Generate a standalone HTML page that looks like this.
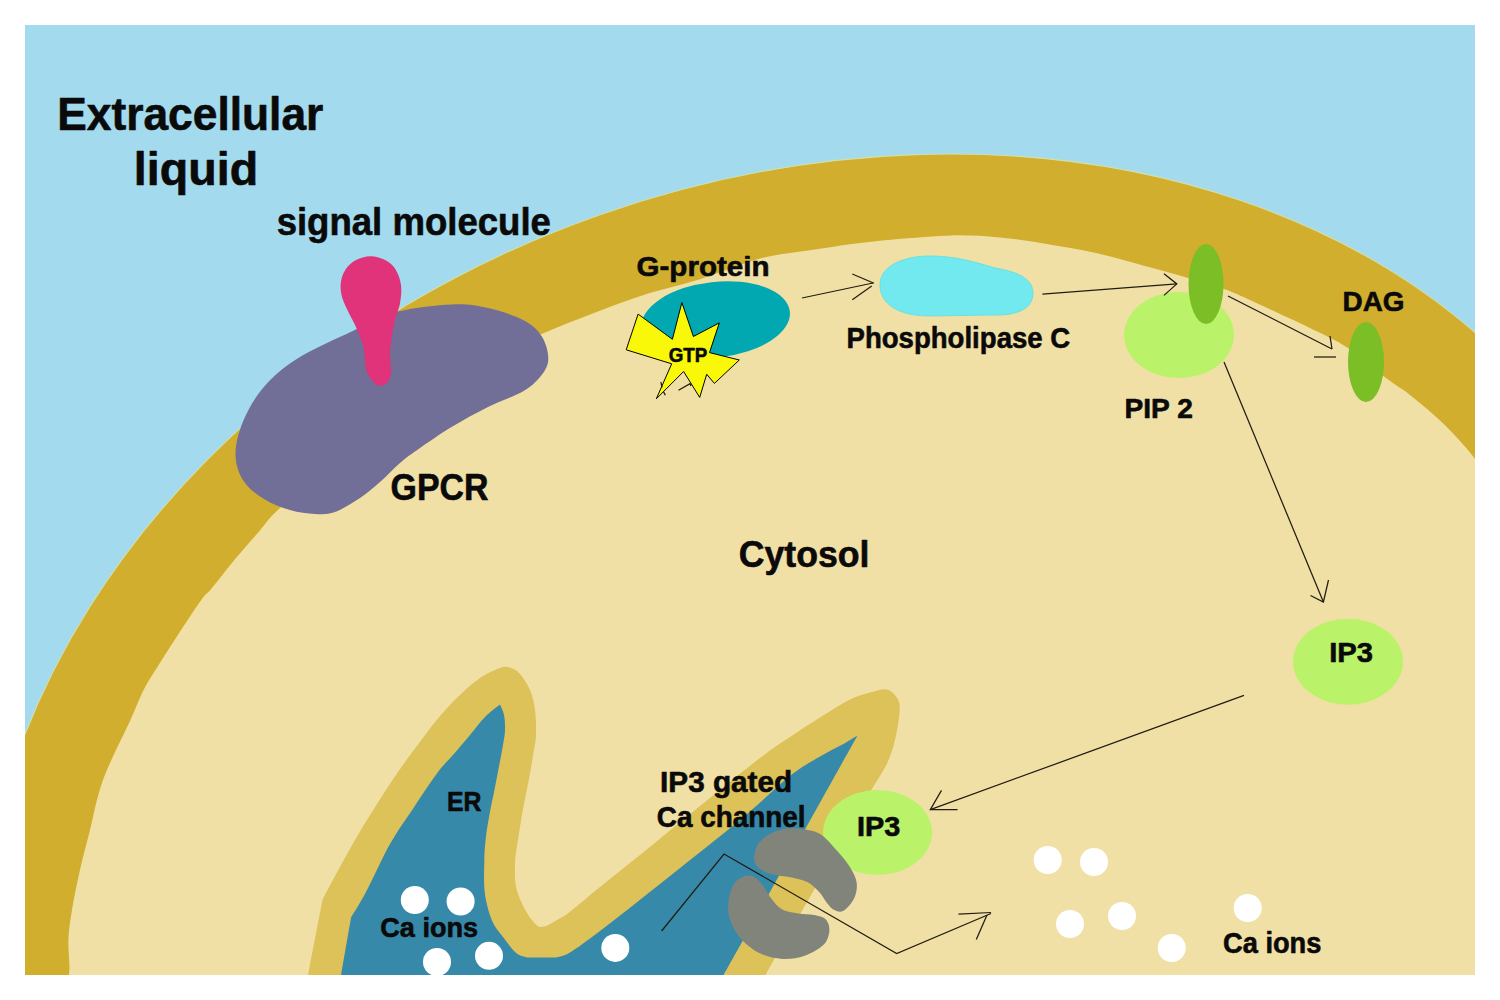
<!DOCTYPE html>
<html><head><meta charset="utf-8">
<style>
html,body{margin:0;padding:0;background:#fff;width:1500px;height:1000px;overflow:hidden}
svg{display:block}
text{font-family:"Liberation Sans",sans-serif;font-weight:bold;fill:#0a0a0a;stroke:#0a0a0a;stroke-width:0.6;stroke-linejoin:round}
</style></head>
<body>
<svg width="1500" height="1000" viewBox="0 0 1500 1000">
<defs><clipPath id="cl"><rect x="25" y="25" width="1450" height="950"/></clipPath></defs>
<rect x="0" y="0" width="1500" height="1000" fill="#fff"/>
<g clip-path="url(#cl)">
<rect x="25" y="25" width="1450" height="950" fill="#A3DAEE"/>
<ellipse cx="826.15" cy="858.75" rx="863.3" ry="682.5" transform="rotate(-19.41 826.15 858.75)" fill="#D1AE2D" stroke="#D2DFA8" stroke-width="1.1"/>
<path fill="#F1E0A5" d="M60.0,1000.0 C61.5,995.7 67.6,984.0 69.0,974.0 C70.4,964.0 67.9,950.7 68.4,940.0 C68.9,929.3 70.1,921.7 72.0,910.0 C73.9,898.3 77.0,883.3 80.0,870.0 C83.0,856.7 86.2,845.0 90.0,830.0 C93.8,815.0 96.3,798.3 103.0,780.0 C109.7,761.7 123.6,735.0 130.4,720.0 C137.2,705.0 139.0,699.0 143.6,690.0 C148.2,681.0 152.4,675.0 158.0,666.0 C163.6,657.0 170.0,647.0 177.2,636.0 C184.4,625.0 195.4,608.0 201.2,600.0 C207.0,592.0 206.2,595.0 212.0,588.0 C217.8,581.0 228.0,567.6 236.0,558.0 C244.0,548.4 252.8,538.6 260.0,530.4 C267.2,522.2 267.5,519.5 279.2,508.8 C290.9,498.1 311.5,481.1 330.0,466.3 C348.5,451.5 370.0,434.2 390.0,420.0 C410.0,405.7 431.7,391.9 450.0,380.7 C468.3,369.5 484.3,360.6 500.0,352.6 C515.7,344.7 528.5,339.6 544.0,333.0 C559.5,326.4 576.2,319.8 593.3,313.3 C610.4,306.8 628.9,299.8 646.7,294.1 C664.5,288.4 681.1,285.1 700.0,279.2 C718.9,273.3 742.0,263.4 760.0,258.6 C778.0,253.8 792.0,253.1 808.0,250.6 C824.0,248.1 840.0,245.4 856.0,243.4 C872.0,241.4 888.0,239.9 904.0,238.6 C920.0,237.3 936.0,235.6 952.0,235.4 C968.0,235.2 984.0,235.9 1000.0,237.4 C1016.0,238.9 1032.0,241.6 1048.0,244.2 C1064.0,246.8 1080.0,249.4 1096.0,253.0 C1112.0,256.6 1128.8,261.7 1144.0,265.8 C1159.2,269.9 1173.9,273.9 1187.2,277.8 C1200.5,281.7 1213.5,285.3 1224.0,289.0 C1234.5,292.7 1240.7,295.8 1250.0,300.0 C1259.3,304.2 1270.0,309.3 1280.0,314.0 C1290.0,318.7 1298.7,322.3 1310.0,328.0 C1321.3,333.7 1335.2,339.5 1348.0,348.0 C1360.8,356.5 1376.7,371.0 1387.0,378.8 C1397.3,386.6 1400.4,387.3 1410.0,395.0 C1419.6,402.7 1433.8,414.3 1444.5,424.8 C1455.2,435.3 1465.2,446.3 1474.4,458.0 C1483.7,469.7 1495.7,488.8 1500.0,495.0 L1500,1000 Z"/>

<!-- ER outer -->
<path id="erOuter" fill="#DDC159" d="M305.0,995.0 C305.5,991.6 305.3,990.4 308.2,974.5 C311.1,958.6 320.1,912.2 322.5,899.7 L322.5,899.7 C327.1,891.2 341.4,863.9 350.0,848.8 C358.6,833.6 366.0,821.6 374.0,808.8 C382.0,796.0 390.2,783.4 398.0,772.0 C405.8,760.6 414.0,749.8 421.0,740.5 C428.0,731.2 433.5,723.6 440.0,716.0 C446.5,708.4 453.3,701.3 460.0,695.0 C466.7,688.7 473.3,682.5 480.0,678.0 C486.7,673.5 495.0,669.8 500.0,668.0 C505.0,666.2 506.7,666.5 510.0,667.5 C513.3,668.5 516.7,670.2 520.0,674.0 C523.3,677.8 527.5,684.0 530.0,690.0 C532.5,696.0 534.0,702.5 535.0,710.0 C536.0,717.5 536.2,728.0 536.0,735.0 C535.8,742.0 534.8,744.5 533.6,752.0 C532.4,759.5 530.6,770.3 528.8,780.0 C527.0,789.7 524.6,800.0 522.8,810.0 C521.0,820.0 519.3,831.3 518.0,840.0 C516.7,848.7 515.4,854.1 515.1,862.0 C514.8,869.9 514.6,879.6 516.2,887.5 C517.9,895.4 521.7,903.3 525.0,909.5 C528.3,915.7 532.8,921.6 536.0,924.5 C539.2,927.4 540.3,927.5 544.0,926.6 C547.7,925.8 553.7,921.9 558.0,919.4 C562.3,916.9 563.0,917.1 570.0,911.7 C577.0,906.3 588.3,896.5 600.0,887.0 C611.7,877.5 623.3,868.5 640.0,855.0 C656.7,841.5 680.0,822.2 700.0,806.0 C720.0,789.8 745.0,769.5 760.0,758.0 C775.0,746.5 780.0,743.8 790.0,737.0 C800.0,730.2 810.0,723.8 820.0,717.5 C830.0,711.2 841.2,703.8 850.0,699.5 C858.8,695.2 866.2,693.6 872.5,692.0 C878.8,690.4 883.2,688.5 887.5,689.8 C891.8,691.0 896.0,695.6 898.0,699.5 C900.0,703.4 900.0,706.2 899.5,713.0 C899.0,719.8 897.0,731.8 895.0,740.0 C893.0,748.2 891.2,754.5 887.5,762.5 C883.8,770.5 875.0,783.8 872.5,788.0 L872.5,788.0 C854.6,819.3 784.6,941.5 765.0,976.0 C745.4,1010.5 756.7,991.8 755.0,995.0 Z"/>
<!-- ER lumen -->
<path id="erInner" fill="#3689A9" d="M338.0,995.0 C338.5,991.6 339.0,987.5 341.2,974.5 C343.4,961.5 349.5,926.8 351.1,917.3 L351.1,917.3 C353.6,913.1 359.5,904.2 366.0,892.0 C372.5,879.8 382.0,858.1 390.0,844.0 C398.0,829.9 406.0,819.2 414.0,807.2 C422.0,795.2 431.5,780.7 438.0,772.0 C444.5,763.3 447.7,761.2 453.0,755.0 C458.3,748.8 464.7,741.3 470.0,735.0 C475.3,728.7 480.0,722.1 485.0,717.0 C490.0,711.9 497.5,706.6 500.0,704.5 L500.0,704.5 C500.7,706.2 503.2,710.8 504.0,715.0 C504.8,719.2 505.2,725.0 505.0,730.0 C504.8,735.0 504.6,735.7 503.0,745.0 C501.4,754.3 497.5,774.2 495.2,786.0 C492.9,797.8 490.8,807.0 489.2,816.0 C487.6,825.0 486.4,832.3 485.6,840.0 C484.8,847.7 484.4,853.2 484.3,862.0 C484.2,870.8 483.5,883.2 484.8,893.0 C486.1,902.8 489.0,913.2 492.0,920.5 C495.0,927.8 499.0,931.6 503.0,937.0 C507.0,942.4 512.2,949.6 516.2,953.0 C520.2,956.4 525.2,956.7 527.0,957.4 L527.0,957.4 C531.8,957.4 551.2,957.4 556.0,957.4 L556.0,957.4 C558.3,956.6 562.7,956.8 570.0,952.4 C577.3,948.0 585.0,942.4 600.0,931.0 C615.0,919.6 636.7,902.5 660.0,884.0 C683.3,865.5 718.3,838.0 740.0,820.0 C761.7,802.0 776.7,786.6 790.0,776.0 C803.3,765.4 811.2,761.8 820.0,756.5 C828.8,751.2 836.2,748.0 842.5,744.5 C848.8,741.0 855.0,737.0 857.5,735.5 L857.5,735.5 C835.1,775.6 747.2,932.8 723.0,976.0 C698.8,1019.2 714.2,991.8 712.5,995.0 Z"/>

<!-- ions in ER -->
<g fill="#fff">
<circle cx="414.8" cy="900" r="14"/>
<circle cx="460.6" cy="901.5" r="14"/>
<circle cx="437" cy="962" r="14"/>
<circle cx="489" cy="955.8" r="14"/>
<circle cx="615.3" cy="947.9" r="14"/>
<circle cx="538" cy="990" r="14"/>
<circle cx="1047.7" cy="860" r="14"/>
<circle cx="1094" cy="862" r="14"/>
<circle cx="1070" cy="924" r="14"/>
<circle cx="1122" cy="916" r="14"/>
<circle cx="1171.7" cy="948" r="14"/>
<circle cx="1247.7" cy="908" r="14"/>
</g>

<!-- GPCR -->
<path fill="#716E98" d="M290.0,510.0 C298.5,512.5 307.5,513.7 315.0,514.0 C322.5,514.3 327.5,514.7 335.0,512.0 C342.5,509.3 352.5,503.0 360.0,498.0 C367.5,493.0 373.3,487.8 380.0,482.0 C386.7,476.2 393.3,468.7 400.0,463.0 C406.7,457.3 411.3,454.0 420.0,448.0 C428.7,442.0 440.7,433.6 452.0,426.8 C463.3,420.0 476.0,413.0 488.0,407.0 C500.0,401.0 515.0,396.2 524.0,390.8 C533.0,385.4 538.0,380.0 542.0,374.6 C546.0,369.2 548.3,364.7 548.3,358.4 C548.3,352.1 546.0,343.1 542.0,336.8 C538.0,330.5 533.0,325.4 524.0,320.6 C515.0,315.8 500.0,310.7 488.0,308.0 C476.0,305.3 467.0,303.8 452.0,304.4 C437.0,305.0 414.5,307.2 398.0,311.6 C381.5,316.0 370.2,322.8 353.2,330.8 C336.2,338.8 311.0,349.9 296.0,359.4 C281.0,368.9 271.8,377.7 263.0,388.0 C254.2,398.3 247.8,410.0 243.2,421.0 C238.6,432.0 235.5,444.1 235.5,454.0 C235.5,463.9 238.4,472.9 243.2,480.4 C247.9,487.9 256.2,494.1 264.0,499.0 C271.8,503.9 281.5,507.5 290.0,510.0 Z"/>
<!-- signal molecule -->
<path fill="#E0337A" d="M370.6,256.3 C365.6,256.3 359.7,258.2 355.6,260.3 C351.5,262.4 348.3,265.6 345.9,269.1 C343.5,272.6 341.7,276.9 341.0,281.2 C340.3,285.5 340.5,290.4 341.5,295.0 C342.5,299.6 344.3,303.2 346.8,308.8 C349.3,314.4 353.8,321.9 356.6,328.4 C359.4,334.9 362.0,341.0 363.6,348.0 C365.2,355.0 364.3,364.3 366.4,370.4 C368.5,376.5 372.9,382.3 376.2,384.5 C379.5,386.7 383.5,385.7 386.0,383.8 C388.5,381.9 390.3,378.7 391.0,373.2 C391.7,367.7 389.6,359.2 390.2,350.8 C390.8,342.4 392.8,330.7 394.4,322.8 C396.0,314.9 398.9,309.5 400.0,303.2 C401.1,296.9 401.8,290.7 401.0,285.0 C400.2,279.3 397.9,273.2 395.3,269.1 C392.7,265.0 389.7,262.4 385.6,260.3 C381.5,258.2 375.6,256.3 370.6,256.3 Z"/>

<!-- G-protein -->
<ellipse cx="715.8" cy="319.7" rx="74.5" ry="37.8" transform="rotate(-6.3 715.8 319.7)" fill="#02A8B1"/>
<polygon fill="#F8F808" stroke="#000" stroke-width="1" stroke-linejoin="miter" points="681.9,302.5 693.4,336.5 719.3,322.9 709.5,352.6 739.3,360 714.4,383.4 706.7,374.3 699.7,397.4 683.6,371.5 656.3,398.8 671.7,363.8 626.2,349.8 638.1,314.1 672.4,339.3"/>

<!-- PLC -->
<path fill="#72E9EE" stroke="#6EDFE0" stroke-width="1" d="M880,285 C880,265 905,256 930,256 C955,256 975,262 995,268 C1020,272 1033,280 1033,293 C1033,310 1015,316 990,315 L930,316 C900,316 880,305 880,285 Z"/>

<!-- PIP2 and DAG -->
<ellipse cx="1179" cy="335" rx="55" ry="43" fill="#BAF26A"/>
<ellipse cx="1206" cy="284" rx="17.5" ry="40" fill="#7CBE25"/>
<ellipse cx="1366" cy="362" rx="18" ry="40" fill="#7CBE25"/>

<!-- IP3 -->
<ellipse cx="1348" cy="661.7" rx="55" ry="43" fill="#BAF26A"/>
<ellipse cx="877.5" cy="832.5" rx="54.5" ry="42.5" fill="#BAF26A"/>

<!-- channel -->
<path fill="#80847B" d="M856.6,882.2 C857.4,887.5 856.5,893.4 854.2,898.2 C851.9,903.0 846.5,909.1 843.0,911.0 C839.5,912.9 836.1,910.7 833.4,909.4 C830.7,908.1 829.4,905.9 827.0,903.0 C824.6,900.1 822.2,895.3 819.0,891.8 C815.8,888.3 812.3,884.6 807.8,882.2 C803.3,879.8 797.1,878.6 791.8,877.4 C786.5,876.2 780.6,876.1 775.8,875.0 C771.0,873.9 766.3,872.7 763.0,871.0 C759.7,869.3 757.3,867.0 755.8,864.6 C754.3,862.2 753.8,860.1 754.2,856.6 C754.6,853.1 755.7,847.5 758.2,843.8 C760.7,840.1 764.6,836.7 769.4,834.2 C774.2,831.7 781.1,829.4 787.0,828.6 C792.9,827.8 799.0,828.5 804.6,829.4 C810.2,830.3 815.3,830.7 820.6,834.2 C825.9,837.7 831.8,844.9 836.6,850.2 C841.4,855.5 846.1,860.9 849.4,866.2 C852.7,871.5 855.8,876.9 856.6,882.2 Z"/>
<path fill="#80847B" d="M743.8,876.6 C740.6,877.8 736.7,879.9 734.2,883.8 C731.7,887.7 729.4,894.2 728.6,899.8 C727.8,905.4 727.7,911.3 729.4,917.4 C731.1,923.5 734.2,930.7 739.0,936.6 C743.8,942.5 751.0,948.9 758.2,952.6 C765.4,956.3 774.5,958.5 782.2,959.0 C789.9,959.5 797.7,958.2 804.6,955.8 C811.5,953.4 819.7,948.9 823.8,944.6 C827.9,940.3 829.1,934.5 829.4,930.2 C829.7,925.9 827.9,921.5 825.4,919.0 C822.9,916.5 818.7,915.9 814.2,915.0 C809.7,914.1 803.5,914.3 798.2,913.4 C792.9,912.5 786.7,911.9 782.2,909.4 C777.7,906.9 774.2,902.2 771.0,898.2 C767.8,894.2 765.9,889.0 763.0,885.4 C760.1,881.8 756.6,878.1 753.4,876.6 C750.2,875.1 747.0,875.4 743.8,876.6 Z"/>

<!-- lines -->
<g fill="none" stroke="#211c12" stroke-width="1.25">
<polyline points="802,298 873,283"/>
<polyline points="852.3,274 874,283.3"/>
<polyline points="871.7,286 852.3,299.7"/>
<polyline points="1042.4,294.1 1176.8,283.9"/>
<polyline points="1164,273.8 1176.8,283.9 1164,295.4"/>
<polyline points="1228,296 1332,349"/>
<polyline points="1330,336 1332,349"/>
<polyline points="1314,357 1336,357"/>
<polyline points="1224,362 1323.4,602"/>
<polyline points="1310.5,595.5 1323.4,602 1328.5,580"/>
<polyline points="1244,695.4 930.3,809.6"/>
<polyline points="941.5,790.4 930.3,809.6 957.5,809.6"/>
<polyline points="661.6,931 724,854 896.7,953.5 991,913.5"/>
<polyline points="958.5,914.2 991,912.5"/>
<polyline points="987,915 976.3,939.5"/>
<polyline points="660.9,382 662,387.5"/>
<polyline points="663.6,391.9 665.3,395.2"/>
<polyline points="678.5,390.3 690,383.7 691,386"/>
</g>
</g>

<!-- text -->
<text x="57.15" y="130.10" font-size="45.73" textLength="266.20" lengthAdjust="spacingAndGlyphs">Extracellular</text>
<text x="133.85" y="184.80" font-size="45.46" textLength="124.30" lengthAdjust="spacingAndGlyphs">liquid</text>
<text x="276.65" y="235.40" font-size="38.65" textLength="274.23" lengthAdjust="spacingAndGlyphs">signal molecule</text>
<text x="390.60" y="499.80" font-size="36.78" textLength="97.96" lengthAdjust="spacingAndGlyphs">GPCR</text>
<text x="636.50" y="275.50" font-size="27.39" textLength="133.09" lengthAdjust="spacingAndGlyphs">G-protein</text>
<text x="668.65" y="361.80" font-size="20.04" textLength="38.52" lengthAdjust="spacingAndGlyphs">GTP</text>
<text x="846.50" y="348.00" font-size="29.94" textLength="223.73" lengthAdjust="spacingAndGlyphs">Phospholipase C</text>
<text x="1124.50" y="418.00" font-size="28.18" textLength="68.37" lengthAdjust="spacingAndGlyphs">PIP 2</text>
<text x="1342.50" y="311.00" font-size="28.18" textLength="61.97" lengthAdjust="spacingAndGlyphs">DAG</text>
<text x="738.75" y="566.50" font-size="36.88" textLength="130.75" lengthAdjust="spacingAndGlyphs">Cytosol</text>
<text x="1329.15" y="662.00" font-size="28.52" textLength="43.76" lengthAdjust="spacingAndGlyphs">IP3</text>
<text x="857.10" y="835.70" font-size="27.30" textLength="43.28" lengthAdjust="spacingAndGlyphs">IP3</text>
<text x="660.10" y="792.10" font-size="28.96" textLength="132.06" lengthAdjust="spacingAndGlyphs">IP3 gated</text>
<text x="656.85" y="826.70" font-size="28.57" textLength="148.77" lengthAdjust="spacingAndGlyphs">Ca channel</text>
<text x="447.00" y="810.90" font-size="27.32" textLength="34.49" lengthAdjust="spacingAndGlyphs">ER</text>
<text x="380.25" y="937.20" font-size="27.28" textLength="97.85" lengthAdjust="spacingAndGlyphs">Ca ions</text>
<text x="1223.05" y="952.80" font-size="28.95" textLength="98.27" lengthAdjust="spacingAndGlyphs">Ca ions</text>
</svg>
</body></html>
